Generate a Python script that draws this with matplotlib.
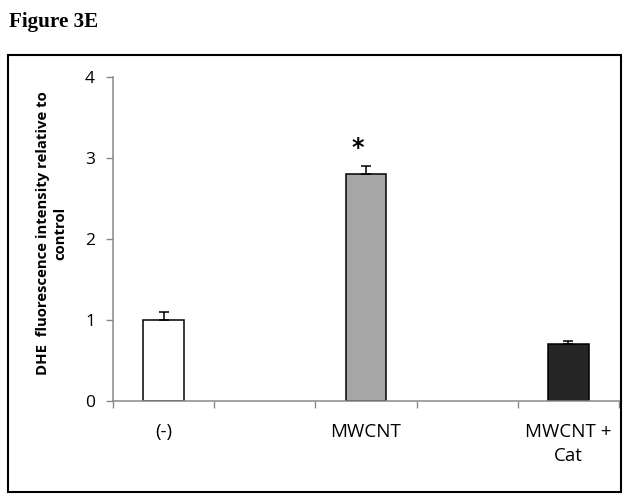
import numpy as np
import matplotlib.pyplot as plt
from matplotlib.patches import Rectangle

# --- Data ---
groups = ["(-)", "MWCNT", "MWCNT +\nCat"]
means = [1.0, 2.8, 0.7]
sems = [0.1, 0.1, 0.04]
bar_colors = ["#ffffff", "#a6a6a6", "#262626"]
significant = [False, True, False]

AXIS_GREY = "#898989"
LABEL_FONT = ["Open Sans", "DejaVu Sans"]

# groups sit in every other slot, with empty slots between them
pos = np.arange(len(groups)) * 2

fig = plt.figure(figsize=(6.29, 5.01), dpi=100)
ax = fig.add_axes([113 / 629, 1 - 401 / 501, 506 / 629, 324 / 501])

ax.bar(pos, means, width=0.4, color=bar_colors, edgecolor="black", linewidth=1.1, zorder=2)
ax.errorbar(pos, means, yerr=[np.zeros(len(sems)), sems], fmt="none",
            ecolor="black", elinewidth=1.1, capsize=3.3, capthick=1.1, zorder=3)

for x, m, s, sig in zip(pos, means, sems, significant):
    if sig:
        ax.text(x - 0.08, m + s + 0.08, "*", ha="center", va="bottom",
                fontsize=17, fontweight="bold")

ax.set_xlim(-0.5, 4.5)
ax.set_ylim(0, 4)
ax.set_yticks([0, 1, 2, 3, 4])
ax.set_xticks(pos)
ax.set_xticklabels(groups, family=LABEL_FONT, fontsize=13.5, linespacing=1.45)
ax.set_xticks(np.arange(-0.5, 5.0, 1.0), minor=True)
ax.tick_params(axis="x", which="major", length=0, pad=15.5)
ax.tick_params(axis="x", which="minor", length=5, color=AXIS_GREY, width=1)
ax.tick_params(axis="y", length=5, color=AXIS_GREY, width=1, pad=8)
for lab in ax.get_yticklabels():
    lab.set_family(LABEL_FONT)
    lab.set_fontsize(12.5)

for side in ["top", "right"]:
    ax.spines[side].set_visible(False)
for side in ["left", "bottom"]:
    ax.spines[side].set_color(AXIS_GREY)
    ax.spines[side].set_linewidth(1.1)

fig.text(52 / 629, 1 - 233 / 501, "DHE  fluorescence intensity relative to\ncontrol",
         rotation=90, ha="center", va="center", fontsize=10.7, fontweight="bold",
         family=LABEL_FONT, linespacing=1.3)

fig.text(9 / 629, 1 - 12 / 501, "Figure 3E", ha="left", va="top",
         fontsize=15.2, fontweight="bold", family=["Liberation Serif", "DejaVu Serif"])

# outer frame around the chart area
fig.add_artist(Rectangle((8 / 629, 1 - 492 / 501), 613 / 629, 437 / 501,
                         transform=fig.transFigure, fill=False, lw=1.5, ec="black"))

plt.savefig("out.png", dpi=100)
